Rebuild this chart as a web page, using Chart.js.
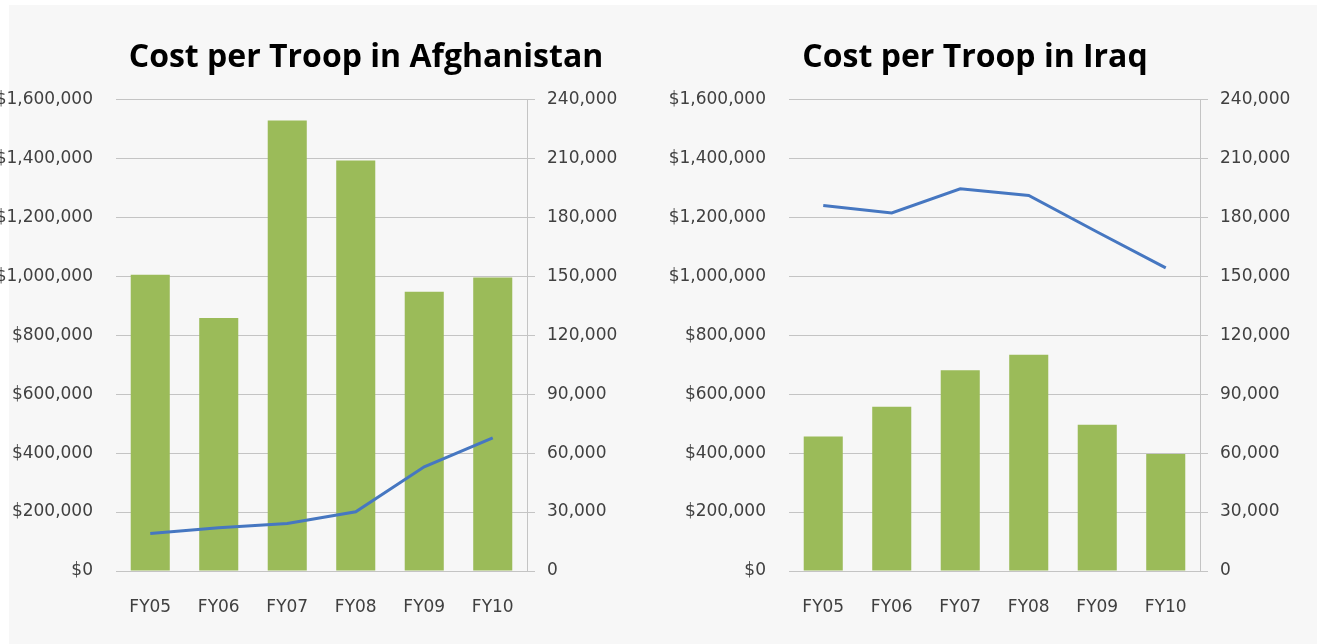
<!DOCTYPE html>
<html>
<head>
<meta charset="utf-8">
<script src="https://cdn.jsdelivr.net/npm/chart.js@4.4.1/dist/chart.umd.min.js"></script>
<style>
  body { margin: 0; background: #ffffff; width: 1317px; height: 644px; overflow: hidden; position: relative; }
  #panel { position: absolute; left: 9px; top: 5px; right: 0; bottom: 0; background: #f7f7f7; }
  canvas { position: absolute; top: 0; }
  #chart-afghan { left: -20px; }
  #chart-iraq { left: 633px; }
</style>
</head>
<body>
<div id="panel"></div>
<canvas id="chart-afghan" width="772" height="644"></canvas>
<canvas id="chart-iraq" width="684" height="644"></canvas>
<script>
// categories
const fiscalYears = ["FY05", "FY06", "FY07", "FY08", "FY09", "FY10"];

// Afghanistan: cost per troop (bars, left axis) and troops (line, right axis)
const afghanCost = [1005000, 858000, 1528000, 1393000, 947000, 996000];
const afghanTroops = [19100, 22000, 24200, 30100, 53000, 67800];

// Iraq
const iraqCost = [456000, 557000, 681000, 734000, 496000, 397000];
const iraqTroops = [186000, 182200, 194500, 191100, 172500, 154300];

// axis ranges
const costMax = 1600000;
const costStep = 200000;
const troopMax = 240000;
const troopStep = 30000;

const tickFont = { family: "DejaVu Sans", size: 17 };
const tickColor = "#404040";
const gridColor = "#c4c4c4";

// build one config; axis widths pin the plot area in place
const makeConfig = (title, costs, troops, leftWidth, rightWidth) => ({
  type: "bar",
  data: {
    labels: fiscalYears,
    datasets: [
      {
        type: "line",
        label: "Troops",
        data: troops,
        yAxisID: "y1",
        borderColor: "#4677c1",
        borderWidth: 3,
        pointRadius: 0,
        tension: 0,
        order: 0,
      },
      {
        label: "Cost per Troop",
        data: costs,
        yAxisID: "y",
        backgroundColor: "#9bbb59",
        categoryPercentage: 1,
        barPercentage: 0.57,
        order: 1,
      },
    ],
  },
  options: {
    responsive: false,
    animation: false,
    layout: { padding: 0 },
    plugins: {
      legend: { display: false },
      tooltip: { enabled: false },
      title: {
        display: true,
        text: title,
        color: "#000000",
        font: { family: "Open Sans", size: 32, weight: "bold" },
        padding: { top: 39, bottom: 22 },
      },
    },
    scales: {
      x: {
        grid: { display: false },
        border: { display: true, color: gridColor },
        ticks: { color: tickColor, font: tickFont, padding: 18 },
        afterFit: (scale) => {
          scale.height = 73;
        },
      },
      y: {
        position: "left",
        min: 0,
        max: costMax,
        grid: { color: gridColor, drawTicks: false },
        border: { display: false },
        ticks: {
          stepSize: costStep,
          color: tickColor,
          font: tickFont,
          padding: 23,
          callback: (v) => "$" + v.toLocaleString("en-US"),
        },
        afterFit: (scale) => {
          scale.width = leftWidth;
        },
      },
      y1: {
        position: "right",
        min: 0,
        max: troopMax,
        grid: { drawOnChartArea: false, color: gridColor, tickLength: 8 },
        border: { display: true, color: gridColor },
        ticks: {
          stepSize: troopStep,
          color: tickColor,
          font: tickFont,
          padding: 12,
          callback: (v) => v.toLocaleString("en-US"),
        },
        afterFit: (scale) => {
          scale.width = rightWidth;
        },
      },
    },
  },
});

const afghanChart = new Chart(
  document.getElementById("chart-afghan"),
  makeConfig("Cost per Troop in Afghanistan", afghanCost, afghanTroops, 136, 225)
);
const iraqChart = new Chart(
  document.getElementById("chart-iraq"),
  makeConfig("Cost per Troop in Iraq", iraqCost, iraqTroops, 156, 117)
);
</script>
</body>
</html>
